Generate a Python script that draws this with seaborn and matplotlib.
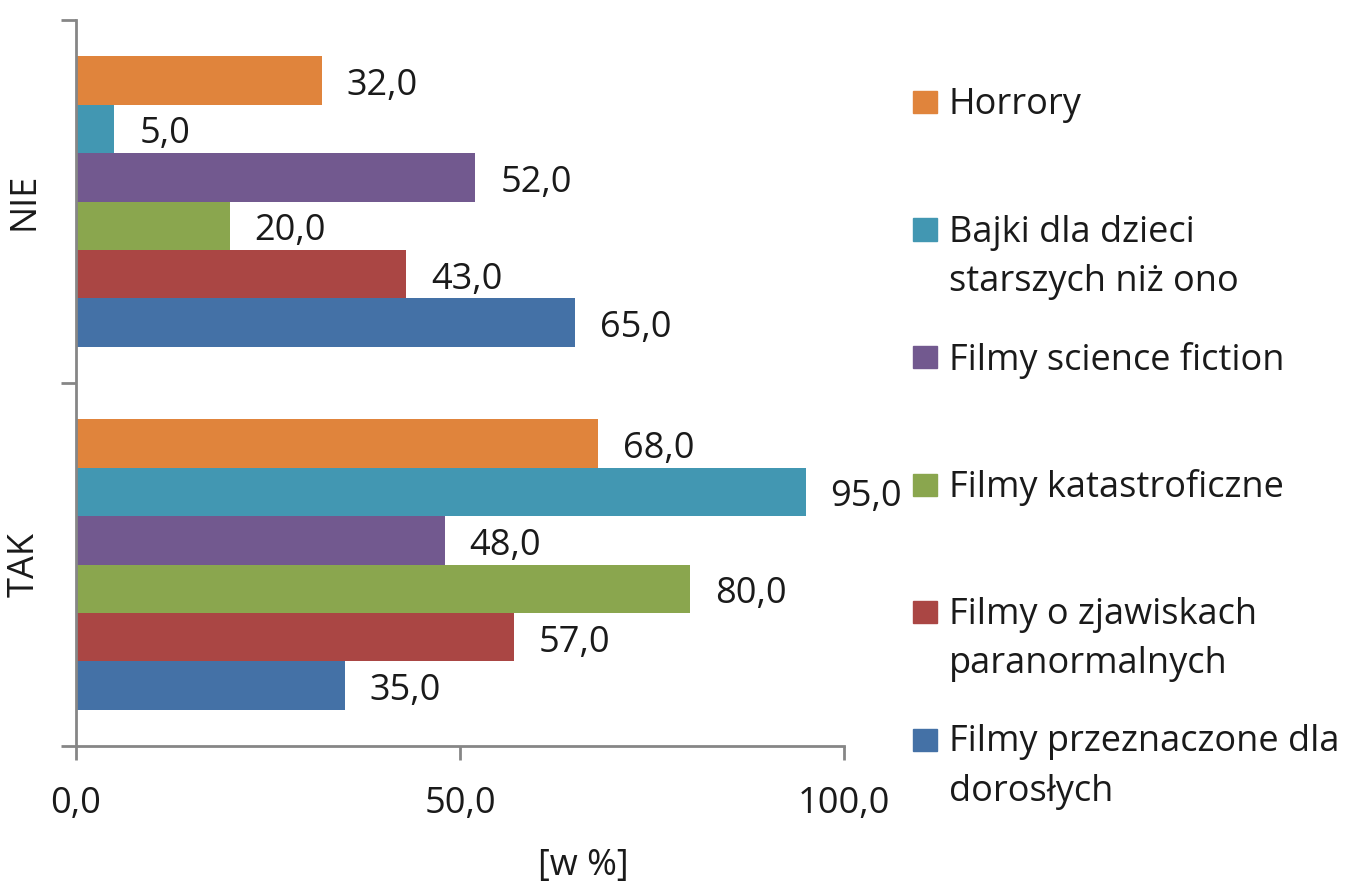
import pandas as pd
import matplotlib.pyplot as plt
import seaborn as sns
from matplotlib.patches import Rectangle
from matplotlib.ticker import FuncFormatter, FixedLocator

# Data
answers = ['NIE', 'TAK']
genres = ['Horrory',
          'Bajki dla dzieci\nstarszych niż ono',
          'Filmy science fiction',
          'Filmy katastroficzne',
          'Filmy o zjawiskach\nparanormalnych',
          'Filmy przeznaczone dla\ndorosłych']
nie_values = [32.0, 5.0, 52.0, 20.0, 43.0, 65.0]
tak_values = [68.0, 95.0, 48.0, 80.0, 57.0, 35.0]
colors = ['#E0843C', '#4297B2', '#72598F', '#8AA64E', '#AA4644', '#4471A6']

df = pd.DataFrame({
    'odp': ['NIE'] * len(genres) + ['TAK'] * len(genres),
    'gatunek': genres * 2,
    'wartosc': nie_values + tak_values,
})

sns.set_style('white')
plt.rcParams['font.family'] = ['Open Sans', 'DejaVu Sans']
txt_color = '#1a1a1a'
fs = 26

fig = plt.figure(figsize=(13.51, 8.90), dpi=100)
ax = fig.add_axes([76 / 1351, 1 - 746 / 890, (844 - 76) / 1351, (746 - 20) / 890])

sns.barplot(data=df, y='odp', x='wartosc', hue='gatunek', order=answers,
            hue_order=genres, palette=colors, orient='h', width=0.8,
            saturation=1, linewidth=0, legend=False, ax=ax)

# value labels next to the bars (nudged slightly down like the original)
for cont in ax.containers:
    anns = ax.bar_label(cont, labels=[f'{v:.1f}'.replace('.', ',') for v in cont.datavalues],
                        padding=18, fontsize=fs, color=txt_color)
    for a in anns:
        x_off, y_off = a.xyann
        a.xyann = (x_off, y_off - 4)

ax.set_xlim(0, 100)
ax.set_ylim(1.5, -0.5)
ax.set_xticks([0, 50, 100])
ax.xaxis.set_major_formatter(FuncFormatter(lambda v, p: f'{v:.1f}'.replace('.', ',')))
ax.set_yticks(range(len(answers)))
ax.set_yticklabels(answers, rotation=90, va='center')
ax.yaxis.set_minor_locator(FixedLocator([-0.5, 0.5, 1.5]))

ax.tick_params(axis='x', which='major', bottom=True, length=10, width=2, color='#868686',
               direction='out', pad=19, labelsize=fs, labelcolor=txt_color)
ax.tick_params(axis='y', which='major', length=0, pad=24, labelsize=fs, labelcolor=txt_color)
ax.tick_params(axis='y', which='minor', length=11, width=2, color='#868686', direction='out', left=True)

for side in ['top', 'right']:
    ax.spines[side].set_visible(False)
for side in ['left', 'bottom']:
    ax.spines[side].set_color('#868686')
    ax.spines[side].set_linewidth(2)

ax.set_ylabel('')
ax.set_xlabel('[w %]', fontsize=fs, color=txt_color)
ax.xaxis.set_label_coords(0.661, -0.14)

# legend drawn by hand, entries evenly spaced from the top
W, H = fig.get_size_inches() * fig.dpi
first_top = 87
step = 127.5
for i, (g, c) in enumerate(zip(genres, colors)):
    top = first_top + i * step
    fig.patches.append(Rectangle((913 / W, 1 - (top + 26) / H), 24 / W, 22 / H,
                                 transform=fig.transFigure, color=c, figure=fig))
    fig.text(949 / W, 1 - top / H, g, fontsize=fs, color=txt_color,
             va='top', ha='left', linespacing=1.5)

plt.savefig('out.png', dpi=100)
